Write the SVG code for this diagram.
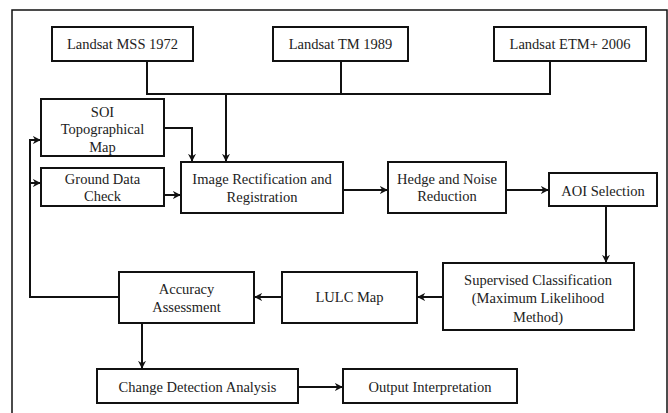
<svg xmlns="http://www.w3.org/2000/svg" width="668" height="413" viewBox="0 0 668 413">
<defs>
<marker id="ah" viewBox="0 0 10 10" refX="9" refY="5" markerWidth="8" markerHeight="8" markerUnits="userSpaceOnUse" orient="auto">
<path d="M0,0 L10,5 L0,10 L3,5 Z" fill="#111"/>
</marker>
<style>
.box{fill:#fff;stroke:#111;stroke-width:2}
.t{font-family:"Liberation Serif","Times New Roman",serif;font-size:14.5px;fill:#222;text-anchor:middle}
.c{fill:none;stroke:#111;stroke-width:2}
.a{marker-end:url(#ah)}
</style>
</defs>
<rect x="0" y="0" width="668" height="413" fill="#fff"/>
<rect x="12" y="10" width="655" height="410" fill="none" stroke="#111" stroke-width="1.5"/>
<g id="connectors">
<path class="c" d="M147,61 V94 H550 V61 M341,61 V94"/>
<path class="c a" d="M226,94 V161"/>
<path class="c a" d="M164,128 H192 V161"/>
<path class="c a" d="M164,195 H180"/>
<path class="c a" d="M343,190 H387"/>
<path class="c a" d="M506,190 H548"/>
<path class="c a" d="M606,206 V262"/>
<path class="c a" d="M443,297 H418"/>
<path class="c a" d="M282,297 H255"/>
<path class="c a" d="M119,297 H30 V140 H40"/>
<path class="c a" d="M30,183 H40"/>
<path class="c a" d="M142,323 V368"/>
<path class="c a" d="M298,387 H342"/>
</g>
<g id="mss"><rect class="box" x="52" y="27" width="141" height="34"/><text class="t" x="122.5" y="49">Landsat MSS 1972</text></g>
<g id="tm"><rect class="box" x="273" y="27" width="135" height="34"/><text class="t" x="340.5" y="49">Landsat TM 1989</text></g>
<g id="etm"><rect class="box" x="494" y="27" width="152" height="34"/><text class="t" x="570" y="49">Landsat ETM+ 2006</text></g>
<g id="soi"><rect class="box" x="41" y="99" width="123" height="57"/><text class="t" x="102.5" y="117">SOI</text><text class="t" x="102.5" y="134">Topographical</text><text class="t" x="102.5" y="152">Map</text></g>
<g id="gdc"><rect class="box" x="41" y="168" width="123" height="38"/><text class="t" x="102.5" y="184">Ground Data</text><text class="t" x="102.5" y="201">Check</text></g>
<g id="irr"><rect class="box" x="181" y="162" width="162" height="51"/><text class="t" x="262" y="184">Image Rectification and</text><text class="t" x="262" y="202">Registration</text></g>
<g id="hedge"><rect class="box" x="388" y="162" width="118" height="51"/><text class="t" x="447" y="184">Hedge and Noise</text><text class="t" x="447" y="201">Reduction</text></g>
<g id="aoi"><rect class="box" x="549" y="173" width="108" height="33"/><text class="t" x="603" y="196">AOI Selection</text></g>
<g id="sup"><rect class="box" x="443" y="263" width="191" height="67"/><text class="t" x="538" y="285">Supervised Classification</text><text class="t" x="538" y="303">(Maximum Likelihood</text><text class="t" x="538" y="322">Method)</text></g>
<g id="lulc"><rect class="box" x="282" y="272" width="135" height="51"/><text class="t" x="349.5" y="302">LULC Map</text></g>
<g id="acc"><rect class="box" x="119" y="272" width="135" height="51"/><text class="t" x="186.5" y="294">Accuracy</text><text class="t" x="186.5" y="312">Assessment</text></g>
<g id="cda"><rect class="box" x="97" y="369" width="201" height="34"/><text class="t" x="197.5" y="392">Change Detection Analysis</text></g>
<g id="out"><rect class="box" x="343" y="369" width="174" height="34"/><text class="t" x="430" y="392">Output Interpretation</text></g>
</svg>
